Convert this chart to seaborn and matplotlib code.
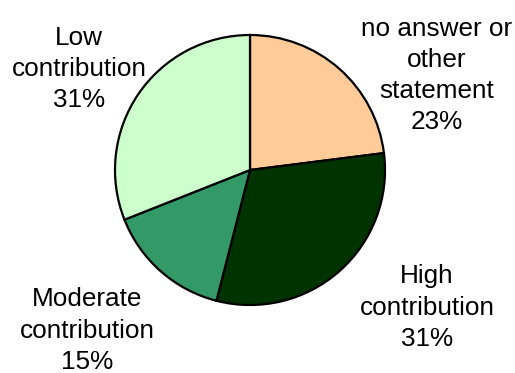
import matplotlib
matplotlib.use("Agg")
import matplotlib.pyplot as plt
import seaborn as sns

categories = ["no answer or\nother\nstatement", "High\ncontribution",
              "Moderate\ncontribution", "Low\ncontribution"]
shares = [23, 31, 15, 31]
colors = ["#FFCC99", "#003300", "#339966", "#CCFFCC"]

# label anchor points (data units, pie radius = 1)
label_xy = [(1.385, 0.70), (1.311, -1.02), (-1.207, -1.19), (-1.267, 0.75)]

sns.set_theme(style="white")
plt.rcParams["font.family"] = ["Liberation Sans", "DejaVu Sans"]

fig = plt.figure(figsize=(5.15, 3.73), dpi=100)
ax = fig.add_axes([0, 0, 1, 1])

ax.pie(shares, colors=colors, startangle=90, counterclock=False,
       wedgeprops=dict(edgecolor="black", linewidth=1.6))

for name, v, (x, y) in zip(categories, shares, label_xy):
    ax.text(x, y, f"{name}\n{v}%", ha="center", va="center",
            fontsize=18.8, color="black", linespacing=1.38)

px = 135.0
ax.set_xlim(-250 / px, (515 - 250) / px)
ax.set_ylim(-(373 - 170) / px, 170 / px)
ax.set_aspect("auto")
ax.axis("off")

fig.savefig("out.png", dpi=100, facecolor="white")
